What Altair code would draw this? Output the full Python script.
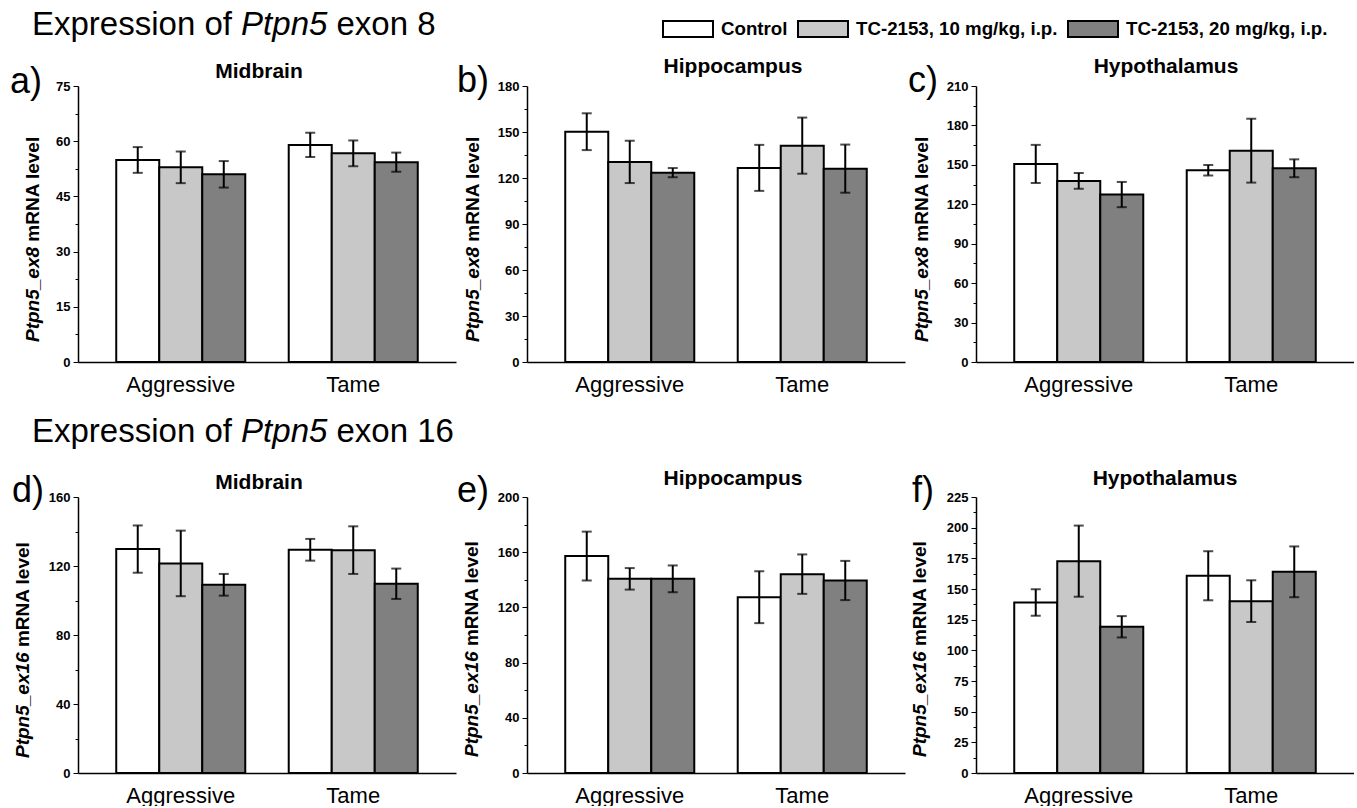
import altair as alt
import pandas as pd

FONT = "Liberation Sans"

groups = ["Aggressive", "Tame"]
treatments = ["Control", "TC-2153, 10 mg/kg, i.p.", "TC-2153, 20 mg/kg, i.p."]
fills = ["#ffffff", "#c8c8c8", "#808080"]

# order: Aggressive (Control, 10, 20), Tame (Control, 10, 20)
a_mean = [54.9, 52.9, 51.0, 59.0, 56.7, 54.3]
a_err = [3.5, 4.3, 3.6, 3.3, 3.5, 2.6]
b_mean = [150.2, 130.5, 123.5, 126.6, 141.1, 126.1]
b_err = [12.0, 13.8, 3.0, 15.0, 18.3, 15.7]
c_mean = [150.7, 137.8, 127.4, 145.9, 160.8, 147.4]
c_err = [14.5, 6.0, 9.6, 4.0, 24.3, 6.8]
d_mean = [129.8, 121.5, 109.1, 129.4, 129.2, 109.7]
d_err = [13.7, 19.0, 6.3, 6.3, 13.8, 8.8]
e_mean = [157.2, 140.7, 140.7, 127.4, 144.1, 139.5]
e_err = [17.7, 7.8, 9.7, 18.8, 14.3, 14.2]
f_mean = [139.0, 172.7, 119.2, 160.8, 140.1, 164.0]
f_err = [10.8, 29.0, 8.7, 20.0, 17.0, 20.7]

W, H = 378, 276

legend = alt.Legend(
    orient="none", legendX=584, legendY=-83, direction="horizontal", title=None,
    symbolType="M-1,-0.32H1V0.32H-1Z", symbolSize=2500,
    symbolStrokeColor="black", symbolStrokeWidth=2, symbolOpacity=1,
    labelFont=FONT, labelFontSize=18.7, labelFontWeight="bold", labelColor="black",
    labelOffset=7, columnPadding=6, labelLimit=0,
)


def text(t, x, y, size, weight="normal", style="normal", angle=0, align="left"):
    return alt.Chart(pd.DataFrame({"t": [t]})).mark_text(
        align=align, baseline="alphabetic", font=FONT, fontSize=size,
        fontWeight=weight, fontStyle=style, angle=angle, color="black"
    ).encode(text="t:N", x=alt.value(x), y=alt.value(y))


def panel(letter, region, exon, mean, err, ymax, step,
          title_dx, title_y, letter_x, letter_y, ytitle_x, ytitle_y, heading_y=None,
          heading_exon=None):
    df = pd.DataFrame({
        "group": [g for g in groups for _ in treatments],
        "treatment": treatments * 2,
        "mean": mean,
        "err": err,
    })
    df["lo"] = df["mean"] - df["err"]
    df["hi"] = df["mean"] + df["err"]
    n = int(round(2 * ymax / step))
    ticks = [i * step / 2 for i in range(n + 1)]
    yscale = alt.Scale(domain=[0, ymax], nice=False, zero=True)
    xenc = alt.X("group:N", sort=groups,
                 scale=alt.Scale(paddingInner=0.252, paddingOuter=0.2217),
                 axis=alt.Axis(title=None, labelAngle=0, ticks=False, tickSize=0,
                               labelFont=FONT, labelFontSize=22, labelFontWeight="normal",
                               labelColor="black", labelPadding=12,
                               domainColor="black", domainWidth=1.5))
    xoff = alt.XOffset("treatment:N", sort=treatments,
                       scale=alt.Scale(paddingInner=0, paddingOuter=0))
    yaxis = alt.Axis(
        title=None, values=ticks, tickCount=100, grid=False, labelOverlap=False,
        labelExpr=f"datum.value % {step} === 0 ? datum.label : ''",
        tickSize={"condition": {"test": f"datum.value % {step} === 0", "value": 5}, "value": 3},
        tickColor="black", tickWidth=1,
        labelFont=FONT, labelFontSize=13, labelFontWeight="bold", labelColor="black",
        labelPadding=3, domainColor="black", domainWidth=1.5,
    )
    base = alt.Chart(df)
    bars = base.mark_bar(stroke="black", strokeWidth=2).encode(
        x=xenc, xOffset=xoff,
        y=alt.Y("mean:Q", scale=yscale, axis=yaxis),
        fill=alt.Fill("treatment:N", scale=alt.Scale(domain=treatments, range=fills),
                      legend=legend),
    )
    rules = base.mark_rule(color="black", strokeWidth=2).encode(
        x=alt.X("group:N", sort=groups), xOffset=alt.XOffset("treatment:N", sort=treatments),
        y=alt.Y("lo:Q", scale=yscale), y2="hi:Q",
    )
    caps_hi = base.mark_tick(color="black", size=10, thickness=2).encode(
        x=alt.X("group:N", sort=groups), xOffset=alt.XOffset("treatment:N", sort=treatments),
        y=alt.Y("hi:Q", scale=yscale),
    )
    caps_lo = base.mark_tick(color="black", size=10, thickness=2).encode(
        x=alt.X("group:N", sort=groups), xOffset=alt.XOffset("treatment:N", sort=treatments),
        y=alt.Y("lo:Q", scale=yscale),
    )
    italic_part = f"Ptpn5_ex{exon}"
    italic_w = (95.0 if exon == "8" else 105.6)
    layers = [
        bars, rules, caps_hi, caps_lo,
        text(region, W / 2 + title_dx, title_y, 21, weight="bold", align="center"),
        text(letter, letter_x, letter_y, 36),
        text(italic_part, ytitle_x, ytitle_y, 19, weight="bold", style="italic", angle=270),
        text("mRNA level", ytitle_x, ytitle_y - italic_w - 5.3, 19, weight="bold", angle=270),
    ]
    if heading_y is not None:
        layers += [
            text("Expression of", -46, heading_y, 33),
            text("Ptpn5", 163.1, heading_y, 33, style="italic"),
            text(f"exon {heading_exon}", 258.5, heading_y, 33),
        ]
    return alt.layer(*layers).properties(width=W, height=H)


pa = panel("a)", "Midbrain", "8", a_mean, a_err, 75, 15, -8, -8, -68, 7, -39, 256, -51, "8")
pb = panel("b)", "Hippocampus", "8", b_mean, b_err, 180, 30, 17, -13, -70, 6, -48, 256)
pc = panel("c)", "Hypothalamus", "8", c_mean, c_err, 210, 30, 1, -13, -68, 6, -48, 256)
pd_ = panel("d)", "Midbrain", "16", d_mean, d_err, 160, 40, -8, -8, -66, 5, -49, 261, -55, "16")
pe = panel("e)", "Hippocampus", "16", e_mean, e_err, 200, 40, 17, -12, -70, 5, -49, 260)
pf = panel("f)", "Hypothalamus", "16", f_mean, f_err, 225, 25, 0, -12, -64, 5, -50, 260)

chart = alt.concat(
    pa, pb, pc, pd_, pe, pf, columns=3, bounds="flush",
    spacing={"row": 135, "column": 71},
).resolve_scale(
    x="independent", y="independent", xOffset="independent", fill="shared"
).resolve_legend(fill="shared").properties(
    padding={"left": 10, "top": 3, "right": 0, "bottom": 0},
    background="white",
).configure_view(stroke=None)

chart.save("out.html", embed_options={"renderer": "svg", "actions": False})
